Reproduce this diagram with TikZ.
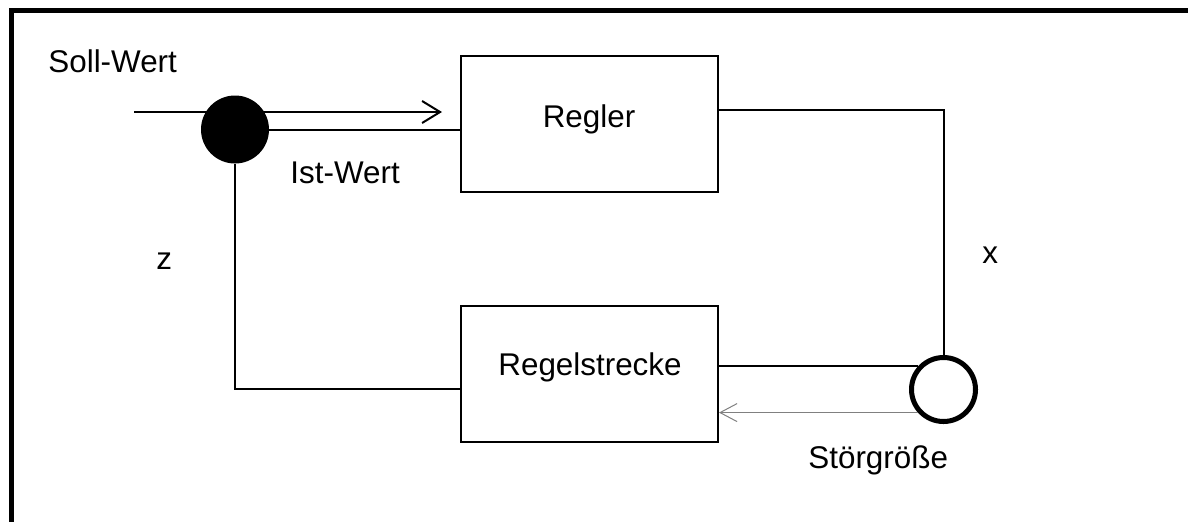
\documentclass[tikz,border=0pt]{standalone}
\usepackage{fontspec}
\setmainfont{Liberation Sans}
\usetikzlibrary{arrows.meta}
\begin{document}
\begin{tikzpicture}[x=0.5pt,y=-0.5pt,
  every node/.style={font=\fontsize{15.7}{19}\selectfont},
  block/.style={draw,line width=1pt,minimum width=128.5pt,minimum height=68pt,inner sep=0pt},
  wire/.style={line width=1pt},
  lbl/.style={anchor=base west,inner sep=0pt},
  opentip/.style={-{Straight Barb[length=9pt,width=11pt,line width=1pt]}},
  thintip/.style={-{Straight Barb[length=8.5pt,width=9pt,line width=0.5pt]}}]
\useasboundingbox (0,0) rectangle (1188,521);

% outer frame
\draw[line width=2.5pt] (11,540) -- (11,10) -- (1200,10);

% blocks
\node[block] (regler)  at (589.5,124) {};
\node[block] (strecke) at (589.5,373.5) {};
\node[anchor=base,inner sep=0pt] (reglertext)  at (589,127) {Regler};
\node[anchor=base,inner sep=0pt] (streckentext) at (590,375) {Regelstrecke};

% set point input, passing through the summing point
\coordinate (sollin) at (134,112);
\coordinate (solltip) at (442,112);
\draw[wire,opentip] (sollin) -- (solltip);

% summing point and disturbance point
\node[circle,fill=black,minimum size=34pt,inner sep=0pt] (sum) at (235,129.5) {};
\node[circle,draw,line width=2.5pt,fill=white,minimum size=32pt,inner sep=0pt] (dist) at (943.5,389.5) {};

% signal paths
\draw[wire] (sum.east) -- (sum.east -| regler.west);
\draw[wire] ([yshift=7pt]regler.east) -| (dist.north);
\draw[wire] (dist.138 -| strecke.east) -- (dist.138);
\draw[line width=0.6pt,gray,thintip] (dist.222) -- (dist.222 -| strecke.east);
\draw[wire] (sum.south) |- ([yshift=-7.75pt]strecke.west);

% labels
\node[lbl] (soll) at (48,72) {Soll-Wert};
\node[lbl] (ist) at (290,183) {Ist-Wert};
\node[lbl] (zl) at (156,269) {z};
\node[lbl] (xl) at (982,263) {x};
\node[lbl] (stoer) at (808,468) {Störgröße};
\end{tikzpicture}
\end{document}
